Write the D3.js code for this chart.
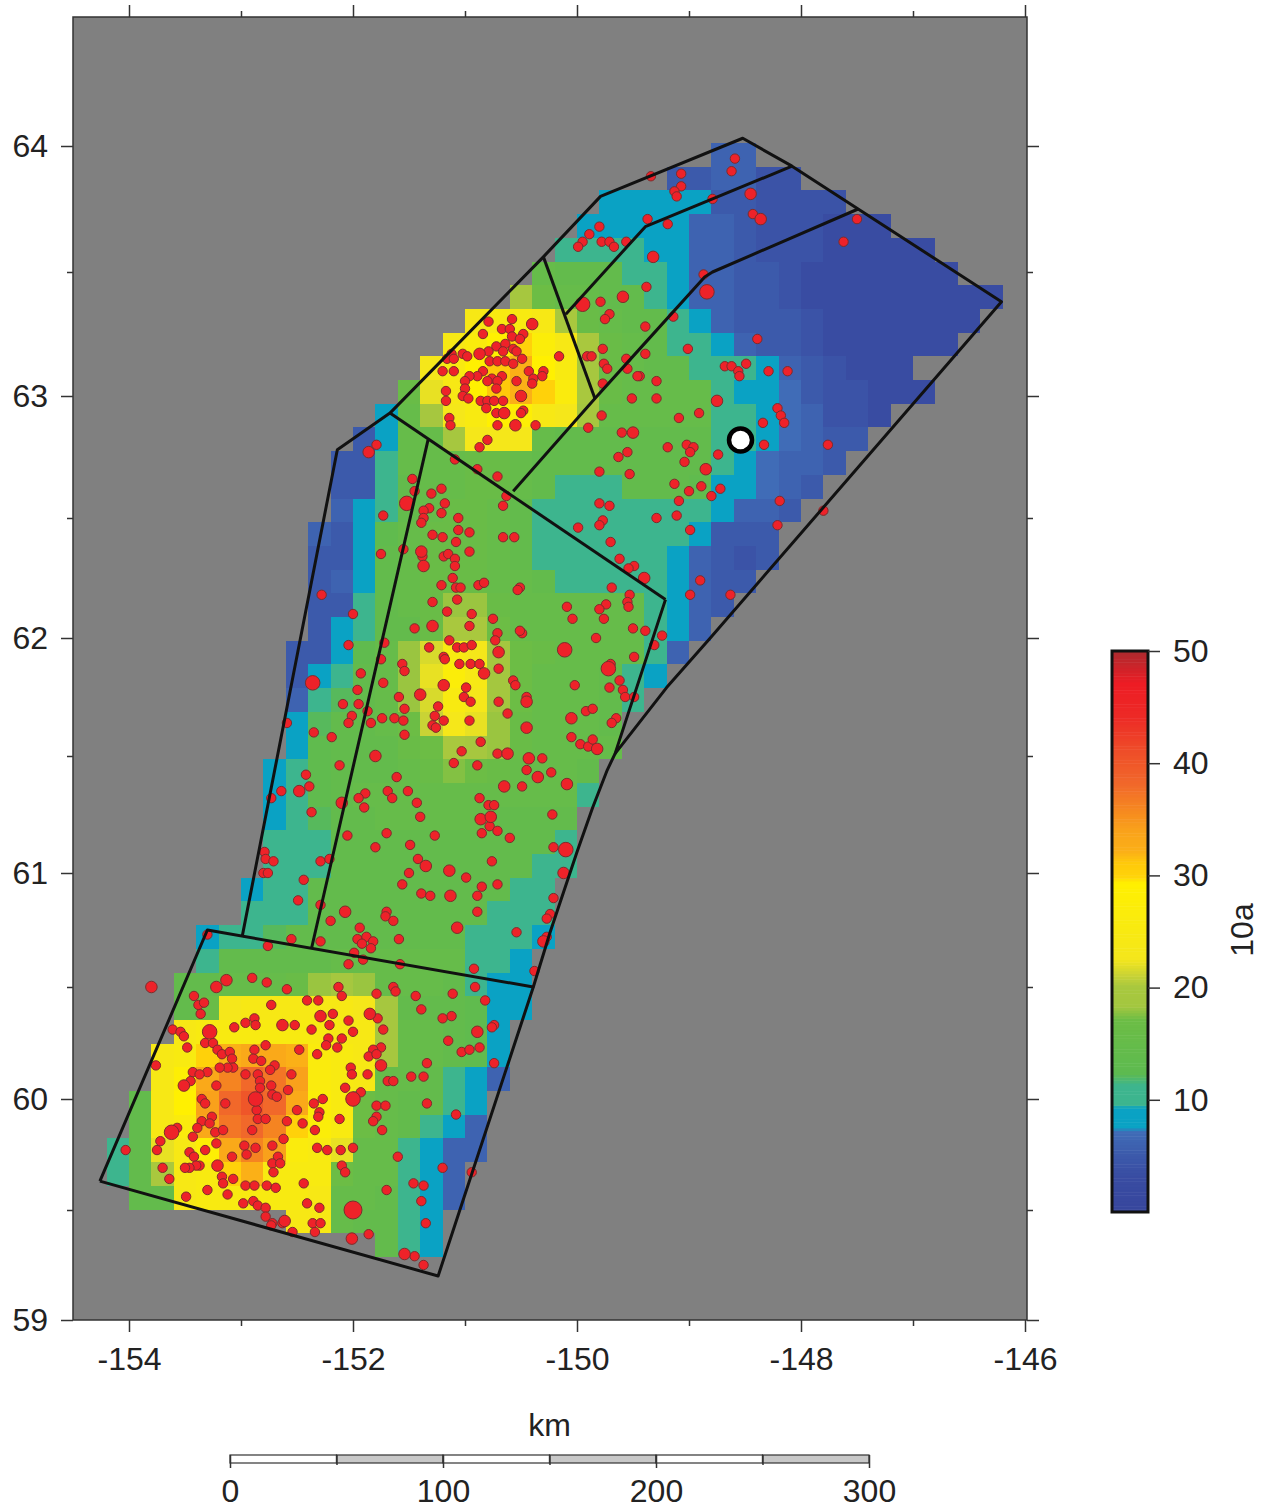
<!DOCTYPE html>
<html>
<head>
<meta charset="utf-8">
<script src="https://cdn.jsdelivr.net/npm/d3@7"></script>
<style>
  html, body { margin: 0; background: #fff; }
  svg { display: block; }
  text { font-family: "Liberation Sans", Arial, sans-serif; fill: #222; }
</style>
</head>
<body>
<svg id="chart" width="1270" height="1509"></svg>
<script>
// tick labels
const lonMajor = [-154, -152, -150, -148, -146];
const lonMinor = [-153, -151, -149, -147];
const latMajor = [59, 60, 61, 62, 63, 64];
const latMinor = [59.5, 60.5, 61.5, 62.5, 63.5];
const barTicks = [10, 20, 30, 40, 50];
const kmMajor = [0, 100, 200, 300];
const kmMinor = [50, 150, 250];

// measured latitude calibration of the map (mercator-like)
const latAnchors = [64.5, 64, 63.5, 63, 62.5, 62, 61.5, 61, 60.5, 60, 59.5, 59];

// colour table, value -> colour
const colorValues = [0, 3, 5, 7.2, 7.3, 9.2, 9.4, 11.2, 12.2, 17, 18.2, 20, 21, 22.4, 29.2, 29.8, 31, 32, 34, 35.5, 38, 41, 44, 47, 50];
const colorList = ['#37469d', '#394ca2', '#3c5aab', '#406eb8', '#0aa2c4', '#0aa2c4', '#3db58e', '#3db58e', '#5dba50', '#6cbd45', '#a3c73f', '#a9c83e', '#c9d335', '#f4e61c', '#fff000', '#ffd30a', '#ffc90a', '#fbb017', '#f9a11b', '#f68b1f', '#f1682a', '#ee4d29', '#ed2a26', '#ed1c24', '#a92b2f'];

// gridded value, one list per row from north to south, first filled column in cellStart
const cellStart = [27, 25, 22, 21, 20, 19, 18, 16, 15, 14, 13, 12, 11, 10, 10, 10, 9, 9, 9, 9, 9, 8, 8, 8, 8, 8, 7, 7, 7, 7, 7, 6, 6, 4, 4, 3, 3, 3, 2, 2, 1, 1, 0, 0, 1, 8, 12];
const cellValues = [
  [6, 6],
  [5, 5, 6, 6, 4, 4],
  [8.7, 8.7, 8.7, 8.7, 8.7, 5, 5, 4, 4, 4, 4],
  [8.7, 8.7, 8.7, 8.7, 8.7, 6, 6, 5, 4, 4, 4, 3, 3, 3],
  [11, 11, 11, 11, 8.7, 8.7, 6, 6, 5, 4, 4, 4, 3, 3, 3, 3, 3],
  [15, 14, 14, 14, 11, 11, 8.7, 6, 6, 5, 5, 4, 3, 3, 3, 3, 3, 3, 3],
  [19, 17, 15, 15, 14, 14, 11, 8.7, 6, 6, 5, 5, 4, 3, 3, 3, 3, 3, 3, 3, 3, 3],
  [24, 25, 25, 24, 20, 16, 15, 14, 14, 11, 8.7, 6, 5, 5, 5, 4, 3, 3, 3, 3, 3, 3, 3],
  [24, 26, 29, 30, 27, 24, 20, 16, 15, 14, 11, 11, 8.7, 6, 5, 5, 4, 3, 3, 3, 3, 3, 3],
  [23, 25, 29, 31, 32, 29, 25, 19, 16, 15, 14, 14, 11, 11, 11, 8.7, 6, 5, 4, 3, 3, 3],
  [16, 22, 24, 29, 31, 32, 30, 26, 20, 16, 15, 15, 15, 15, 11, 8.7, 8.7, 7, 5, 4, 4, 3, 3, 3],
  [8.7, 15, 19, 23, 25, 29, 28, 24, 23, 19, 15, 15, 15, 15, 15, 11, 11, 8.7, 7, 6, 4, 4, 3],
  [5, 8.7, 15, 15, 19, 23, 23, 23, 15, 14, 14, 14, 14, 14, 14, 14, 11, 11, 8.7, 7, 6, 5, 5],
  [5, 5, 11, 15, 15, 15, 16, 16, 15, 14, 14, 14, 14, 14, 14, 14, 14, 11, 8.7, 7, 6, 6, 5],
  [5, 5, 11, 14, 15, 15, 16, 16, 15, 14, 11, 11, 11, 14, 14, 14, 13, 8.7, 8.7, 7, 6, 5],
  [6, 8.7, 11, 14, 15, 16, 16, 15, 14, 11, 11, 11, 11, 11, 11, 11, 11, 8.7, 6, 6, 5],
  [6, 5, 8.7, 13, 15, 16, 16, 16, 15, 14, 11, 11, 11, 11, 11, 11, 11, 8.7, 5, 5, 5],
  [5, 5, 8.7, 14, 15, 16, 16, 16, 15, 14, 11, 11, 11, 11, 11, 11, 8.7, 6, 5, 4, 5],
  [5, 6, 8.7, 14, 15, 16, 16, 16, 15, 15, 14, 11, 11, 11, 11, 11, 8.7, 6, 5, 5],
  [5, 5, 11, 14, 15, 16, 18, 18, 16, 15, 15, 15, 15, 15, 15, 11, 8.7, 6, 5],
  [5, 8.7, 11, 14, 14, 16, 20, 20, 17, 15, 15, 15, 15, 15, 15, 11, 8.7, 6],
  [5, 5, 8.7, 13, 15, 18, 21.5, 25, 23, 18.5, 17, 16, 15, 15, 15, 15, 11, 6],
  [5, 8.7, 11, 14, 15, 18, 22, 27, 24, 18.5, 17, 15, 15, 15, 14, 11, 8.7],
  [6, 11, 12, 14, 15, 18, 21.5, 25, 23, 18.5, 17, 15, 15, 15, 14, 11],
  [8.7, 12, 14, 14, 15, 17, 21, 23, 22, 18, 16, 15, 15, 15, 14],
  [8.7, 13, 14, 14, 14, 16, 17, 20, 19, 18, 16, 15, 15, 15, 15],
  [8.7, 11, 13, 14, 14, 14, 15, 16, 17.5, 17, 16, 15, 15, 15, 14],
  [8.7, 11, 13, 14, 15, 15, 15, 15, 15, 15, 15, 15, 15, 15, 11],
  [8.7, 11, 12, 14, 14, 15, 15, 15, 15, 15, 14, 14, 14, 14],
  [11, 11, 11, 14, 14, 14, 14, 14, 14, 14, 14, 14, 14, 11],
  [11, 11, 11, 14, 14, 14, 14, 14, 14, 14, 14, 14, 11, 11],
  [8.7, 11, 11, 14, 14, 14, 14, 14, 14, 14, 14, 14, 11, 11],
  [11, 11, 11, 14, 14, 14, 14, 14, 14, 14, 14, 11, 11, 11],
  [8.7, 11, 11, 12, 14, 14, 14, 14, 14, 14, 14, 14, 11, 11, 11, 8.7],
  [11, 14, 14, 14, 14, 14, 15, 15, 15, 15, 15, 15, 11, 11, 8.7],
  [14, 14, 15, 15, 15, 16, 18, 19, 18, 15, 15, 15, 14, 11, 8.7, 8.7],
  [14, 16, 23, 24, 24, 24, 24, 24, 23, 19, 14, 14, 14, 13, 8.7, 8.7],
  [24, 25, 25, 25, 25, 25, 25, 24, 24, 19, 15, 15, 14, 13, 8.7],
  [24, 25, 30, 32, 33, 33, 32, 26, 25, 24, 19, 15, 15, 14, 13, 8.7],
  [24, 28, 33, 36, 38, 37, 34, 26, 25, 24, 15, 15, 14, 11, 8.7, 6],
  [14, 24, 29, 34, 38, 40, 38, 33, 27, 25, 17, 15, 14, 14, 11, 8.7],
  [14, 24, 26, 33, 37, 38, 36, 30, 27, 25, 17, 15, 14, 11, 8.7, 6],
  [11, 14, 22, 24, 28, 33, 36, 34, 26, 25, 22, 15, 15, 11, 8.7, 6, 6],
  [11, 14, 20, 24, 25, 30, 32, 25, 25, 25, 17, 15, 15, 11, 8.7, 6],
  [14, 14, 24, 25, 25, 25, 25, 25, 24, 15, 15, 14, 11, 8.7, 6],
  [24, 24, 15, 14, 14, 11, 8.7],
  [14, 11, 8.7]
];

// epicentres [lon, lat] by size class
const quakesSmall = [
  [-149.34,63.88],[-149.07,63.89],[-149.07,63.84],[-149.13,63.82],[-149.11,63.80],[-148.79,63.79],[-148.59,63.95],[-148.62,63.90],[-148.43,63.73],[-149.37,63.71],[-149.19,63.69],[-147.50,63.71],[-147.62,63.62],[-148.87,63.49],[-149.38,63.44],[-149.14,63.32],[-149.39,63.28],[-149.01,63.19],[-148.39,63.23],[-149.39,63.17],[-148.68,63.12],[-148.62,63.12],[-148.49,63.13],[-148.56,63.10],[-148.55,63.08],[-148.29,63.10],[-148.12,63.10],[-149.29,63.06],[-149.44,63.08],[-149.29,62.99],[-148.91,62.93],[-149.09,62.91],[-148.21,62.95],[-148.18,62.92],[-148.15,62.89],[-148.34,62.89],[-148.33,62.80],[-147.76,62.80],[-149.78,62.92],[-149.90,62.87],[-149.60,62.85],[-149.19,62.79],[-149.02,62.80],[-148.96,62.79],[-148.99,62.77],[-148.74,62.76],[-149.04,62.73],[-149.55,62.77],[-149.63,62.75],[-149.80,62.69],[-149.53,62.68],[-149.13,62.64],[-149.00,62.61],[-148.89,62.63],[-148.72,62.62],[-148.80,62.59],[-149.09,62.57],[-149.80,62.56],[-149.71,62.55],[-149.29,62.50],[-149.11,62.51],[-149.77,62.49],[-149.80,62.47],[-149.99,62.46],[-148.99,62.45],[-148.19,62.57],[-147.80,62.53],[-148.21,62.47],[-149.70,62.40],[-149.62,62.33],[-149.49,62.30],[-149.54,62.29],[-149.69,62.21],[-150.51,62.21],[-148.90,62.24],[-148.99,62.18],[-148.63,62.18],[-149.53,62.18],[-149.55,62.15],[-149.54,62.13],[-149.74,62.14],[-149.80,62.12],[-150.09,62.13],[-150.04,62.08],[-149.76,62.08],[-149.50,62.04],[-149.39,62.03],[-149.24,62.01],[-149.31,61.97],[-149.83,62.00],[-150.49,62.02],[-149.49,61.92],[-149.70,61.89],[-149.62,61.82],[-149.59,61.78],[-150.02,61.80],[-149.71,61.79],[-149.57,61.75],[-149.49,61.75],[-150.45,61.75],
  [-149.80,63.68],[-149.89,63.65],[-149.95,63.62],[-149.99,63.60],[-149.78,63.62],[-149.71,63.62],[-149.67,63.60],[-149.56,63.62],[-149.79,63.38],[-149.71,63.33],[-149.75,63.31],[-149.77,63.19],[-149.91,63.16],[-149.87,63.16],[-149.56,63.15],[-149.55,63.11],[-149.76,63.13],[-149.73,63.11],[-149.46,63.08],[-149.77,63.05],[-149.51,62.99],
  [-150.79,63.30],[-150.58,63.31],[-150.67,63.27],[-150.60,63.27],[-150.84,63.25],[-150.58,63.24],[-150.48,63.25],[-150.51,63.23],[-150.72,63.20],[-150.64,63.21],[-150.57,63.19],[-150.79,63.18],[-150.66,63.18],[-150.54,63.18],[-151.02,63.17],[-150.98,63.16],[-151.12,63.17],[-151.16,63.15],[-151.10,63.15],[-150.49,63.15],[-150.16,63.16],[-150.78,63.14],[-150.71,63.14],[-150.64,63.14],[-150.57,63.13],[-150.84,63.10],[-150.89,63.08],[-150.96,63.08],[-151.00,63.06],[-151.20,63.10],[-151.10,63.10],[-150.67,63.08],[-150.76,63.07],[-150.80,63.06],[-150.71,63.06],[-150.72,63.03],[-150.54,63.06],[-150.43,63.10],[-150.30,63.10],[-150.31,63.08],[-150.39,63.07],[-150.40,63.05],[-151.00,63.03],[-151.17,63.02],[-151.02,63.00],[-150.97,62.99],[-151.17,62.98],[-150.86,62.98],[-150.80,62.98],[-150.74,62.98],[-150.66,62.98],[-150.81,62.95],[-150.48,62.94],[-150.72,62.93],[-150.50,62.93],[-151.14,62.91],[-151.13,62.88],[-150.71,62.88],[-150.37,62.88],[-150.80,62.82],[-150.87,62.79],[-151.09,62.74],[-150.89,62.70],[-150.71,62.67],
  [-151.79,62.80],[-151.47,62.66],[-151.45,62.61],[-151.30,62.60],[-151.21,62.62],[-151.18,62.56],[-151.21,62.52],[-151.32,62.54],[-151.37,62.53],[-151.37,62.50],[-151.39,62.48],[-151.06,62.50],[-151.06,62.45],[-150.96,62.44],[-151.29,62.43],[-151.20,62.42],[-151.08,62.40],[-151.73,62.51],[-150.66,62.42],[-150.56,62.42],[-150.66,62.55],[-150.63,62.59],[-151.75,62.35],[-151.55,62.37],[-151.38,62.34],[-151.19,62.34],[-151.15,62.35],[-151.09,62.33],[-151.09,62.30],[-150.96,62.36],[-151.11,62.25],[-151.21,62.22],[-151.08,62.21],[-151.04,62.21],[-150.88,62.22],[-150.83,62.23],[-150.53,62.20],[-151.29,62.15],[-151.07,62.16],[-151.16,62.11],[-150.94,62.10],[-150.75,62.08],[-152.28,62.18],[-152.00,62.10],[-151.45,62.04],[-150.96,62.05],[-150.71,62.02],[-150.51,62.03],[-151.72,61.98],[-152.04,61.97],[-151.14,61.99],[-151.32,61.96],[-151.07,61.96],[-151.01,61.96],[-150.94,61.97],[-150.73,61.99],[-151.19,61.92],[-151.18,61.91],[-151.75,61.91],[-151.56,61.89],[-151.54,61.86],[-151.05,61.89],[-150.95,61.89],[-150.87,61.89],[-150.70,61.87],[-151.93,61.85],[-151.73,61.81],[-150.57,61.82],[-150.55,61.80],[-151.96,61.78],[-150.99,61.79],[-151.01,61.75],[-150.95,61.73],[-151.59,61.75],[-150.70,61.73],[-150.62,61.68],[-152.09,61.72],[-151.95,61.72],[-151.54,61.70],[-151.24,61.71],[-151.27,61.67],[-151.87,61.69],[-152.01,61.67],[-152.04,61.64],[-151.84,61.64],[-151.74,61.66],[-151.63,61.66],[-151.55,61.65],[-151.54,61.59],[-151.19,61.65],[-151.29,61.63],[-151.26,61.62],[-150.96,61.65],[-149.92,61.69],[-149.86,61.70],[-149.65,61.66],[-149.69,61.64],[-150.05,61.58],[-149.97,61.55],[-149.90,61.54],[-149.86,61.57],[-150.86,61.56],[-151.03,61.52],[-152.35,61.60],[-152.19,61.58],[-152.59,61.64],[-152.12,61.46],[-150.71,61.51],[-151.10,61.47],[-150.89,61.46],[-150.31,61.49],[-150.45,61.44],[-150.23,61.43],[-152.42,61.42],[-151.61,61.41],[-150.49,61.37],[-152.64,61.35],[-152.39,61.37],[-152.73,61.32],[-151.89,61.34],[-151.95,61.32],[-151.69,61.35],[-151.65,61.32],[-151.51,61.35],[-151.90,61.28],[-151.43,61.30],[-150.87,61.32],[-150.79,61.29],[-150.74,61.29],[-152.37,61.26],[-151.40,61.24],[-150.22,61.25],[-150.78,61.20],[-150.85,61.17],[-150.71,61.18],[-150.60,61.15],[-152.05,61.16],[-151.70,61.17],[-151.27,61.16],[-151.49,61.12],[-151.80,61.11],[-150.21,61.11],[-152.79,61.09],[-152.78,61.06],[-152.71,61.05],[-151.42,61.06],[-152.29,61.05],[-152.21,61.06],[-150.76,61.05],[-152.80,61.00],[-152.76,61.00],[-151.50,61.00],[-150.99,60.98],[-152.44,60.97],[-151.56,60.95],[-150.85,60.94],[-150.71,60.95],[-151.39,60.91],[-151.31,60.90],[-150.89,60.90],[-152.49,60.88],[-150.21,60.89],[-152.29,60.86],[-150.89,60.83],[-151.70,60.83],[-151.71,60.81],[-151.64,60.79],[-150.24,60.82],[-150.27,60.80],[-152.20,60.79],[-151.94,60.76],[-150.54,60.74],[-150.27,60.72],[-151.96,60.71],[-151.88,60.72],[-151.82,60.70],[-151.92,60.69],[-151.84,60.67],[-151.59,60.71],[-152.29,60.70],[-152.55,60.71],[-152.76,60.68],[-151.99,60.65],[-151.91,60.62],
  [-153.30,60.73],[-152.04,60.60],[-151.58,60.60],[-150.92,60.58],[-150.38,60.57],[-152.90,60.54],[-152.77,60.52],[-152.59,60.49],[-152.13,60.50],[-152.10,60.46],[-151.79,60.47],[-151.64,60.50],[-151.62,60.48],[-151.44,60.46],[-151.11,60.47],[-150.91,60.50],[-150.82,60.44],[-153.42,60.46],[-153.38,60.42],[-153.33,60.43],[-153.36,60.38],[-152.73,60.42],[-152.41,60.44],[-152.31,60.44],[-151.39,60.40],[-151.12,60.37],[-151.20,60.36],[-152.18,60.38],[-151.78,60.36],[-152.88,60.36],[-152.96,60.34],[-152.87,60.33],[-152.52,60.33],[-152.37,60.31],[-152.21,60.33],[-152.04,60.35],[-153.06,60.32],[-153.61,60.31],[-153.54,60.30],[-153.51,60.28],[-151.73,60.31],[-152.00,60.30],[-150.74,60.33],[-150.76,60.32],[-153.48,60.23],[-153.32,60.25],[-153.25,60.25],[-153.21,60.22],[-153.17,60.20],[-153.10,60.21],[-152.88,60.22],[-152.78,60.24],[-152.48,60.22],[-152.32,60.20],[-152.22,60.27],[-152.24,60.24],[-152.14,60.23],[-152.10,60.27],[-151.75,60.23],[-151.82,60.22],[-151.86,60.19],[-151.79,60.20],[-151.15,60.26],[-151.03,60.21],[-150.96,60.22],[-150.87,60.23],[-153.76,60.15],[-153.08,60.18],[-153.07,60.14],[-153.12,60.14],[-153.19,60.14],[-152.89,60.18],[-152.82,60.17],[-152.70,60.15],[-152.74,60.13],[-151.34,60.16],[-150.74,60.16],[-152.02,60.14],[-153.43,60.12],[-153.30,60.12],[-153.37,60.11],[-152.96,60.11],[-152.85,60.11],[-152.55,60.11],[-152.01,60.11],[-151.87,60.11],[-151.48,60.10],[-151.37,60.10],[-153.22,60.06],[-153.45,60.08],[-152.83,60.08],[-151.69,60.08],[-151.64,60.08],[-152.73,60.06],[-152.58,60.04],[-152.07,60.05],[-151.93,60.03],[-152.83,60.05],[-152.72,60.02],[-152.68,60.01],[-153.35,60.00],[-153.32,59.98],[-153.14,59.98],[-152.27,60.00],[-152.35,59.98],[-152.30,59.94],[-152.50,59.95],[-151.79,59.97],[-151.71,59.97],[-151.34,59.98],[-151.08,59.93],[-152.86,59.95],[-152.85,59.91],[-152.78,59.91],[-152.31,59.92],[-152.12,59.91],[-151.79,59.92],[-151.82,59.90],[-151.74,59.86],[-152.59,59.90],[-152.45,59.89],[-152.34,59.86],[-153.26,59.92],[-153.35,59.90],[-153.28,59.89],[-153.39,59.87],[-153.57,59.87],[-153.43,59.83],[-153.23,59.85],[-153.16,59.86],[-152.90,59.86],[-152.62,59.82],[-153.72,59.81],[-153.75,59.77],[-154.03,59.77],[-153.32,59.77],[-153.22,59.80],[-152.97,59.79],[-152.87,59.78],[-152.95,59.75],[-152.72,59.79],[-152.32,59.78],[-152.23,59.77],[-152.11,59.77],[-152.00,59.78],[-151.60,59.74],[-153.08,59.74],[-152.67,59.74],[-153.46,59.76],[-153.42,59.74],[-152.72,59.71],[-152.65,59.71],[-153.37,59.70],[-153.40,59.70],[-153.46,59.69],[-153.50,59.69],[-153.70,59.69],[-152.10,59.70],[-152.07,59.67],[-152.71,59.67],[-151.20,59.69],[-150.94,59.67],[-153.64,59.64],[-153.17,59.65],[-153.07,59.64],[-153.16,59.62],[-152.44,59.62],[-151.46,59.62],[-151.37,59.61],[-152.96,59.61],[-152.88,59.61],[-152.77,59.61],[-152.69,59.60],[-153.30,59.59],[-151.70,59.59],[-153.12,59.57],[-153.49,59.56],[-151.39,59.54],[-152.41,59.53],[-152.30,59.51],[-152.98,59.53],[-152.89,59.54],[-152.85,59.52],[-152.78,59.51],[-152.78,59.47],[-152.72,59.44],[-152.63,59.44],[-151.35,59.44],[-152.54,59.40],[-152.36,59.44],[-152.29,59.44],[-152.34,59.40],[-151.86,59.39],[-151.45,59.29],[-151.37,59.25],[-152.73,59.43]
];
const quakesMid = [
  [-148.45,63.81],[-148.36,63.71],[-149.32,63.56],[-148.75,62.98],[-149.50,62.85],[-148.85,62.70],[-149.40,62.25],[-149.59,63.40],[-150.40,63.29],[-150.87,63.17],[-150.50,63.00],[-150.65,62.93],[-150.55,62.88],[-151.86,62.77],[-151.39,62.36],[-151.37,62.30],[-151.29,62.05],[-150.83,61.85],[-151.19,61.80],[-151.40,61.76],[-150.45,61.73],[-150.70,61.94],[-150.45,61.62],[-150.05,61.66],[-149.82,61.53],[-151.80,61.50],[-150.62,61.51],[-150.43,61.49],[-150.35,61.41],[-150.65,61.37],[-150.09,61.38],[-152.48,61.35],[-152.10,61.30],[-150.86,61.23],[-150.77,61.24],[-151.35,61.03],[-151.14,61.01],[-150.12,61.00],[-151.13,60.90],[-152.07,60.83],[-151.07,60.76],[-150.30,60.70],[-153.80,60.50],[-153.22,60.50],[-153.13,60.53],[-152.29,60.37],[-151.85,60.38],[-152.63,60.33],[-150.89,60.30],[-151.75,60.15],[-153.51,60.06],[-153.21,59.70],[-152.61,59.45],[-152.01,59.37],[-151.54,59.30]
];
const quakesLarge = [
  [-148.84,63.42],[-149.95,63.37],[-150.11,61.95],[-149.72,61.87],[-152.36,61.81],[-150.10,61.10],[-151.52,62.56],[-153.28,60.30],[-152.00,60.00],[-152.87,60.00],[-153.62,59.85]
];
const quakesHuge = [[-152.00, 59.50]];
const sizeClasses = [5, 5.5, 6.2, 7];
const mainShock = [-148.54, 62.82];

// rupture block outlines [lon, lat]
const blockLines = [
  [[-154.26,59.63],[-153.30,60.75],[-150.39,60.50],[-151.24,59.20],[-154.26,59.63]],
  [[-150.39,60.50],[-150.24,60.74],[-150.00,61.09],[-149.86,61.28],[-149.73,61.44],[-149.66,61.51],[-149.21,62.16]],
  [[-149.66,61.51],[-149.20,61.79],[-148.81,62.00],[-146.21,63.38],[-147.49,63.75],[-148.08,63.92],[-148.52,64.03],[-149.79,63.80],[-150.30,63.56],[-151.67,62.93],[-152.14,62.78],[-152.99,60.72]],
  [[-151.33,62.82],[-152.37,60.67]],
  [[-151.67,62.93],[-149.21,62.16]],
  [[-150.57,62.61],[-149.84,62.99],[-149.44,63.19],[-148.86,63.48],[-148.79,63.50],[-147.49,63.75]],
  [[-150.10,63.33],[-149.39,63.68],[-148.08,63.92]],
  [[-150.30,63.56],[-149.84,62.99]]
];

const svg = d3.select('#chart');

// scales
const x = d3.scaleLinear().domain([-154, -146]).range([129, 1025]);
const y = d3.scaleLinear()
  .domain(latAnchors)
  .range([17, 146, 272, 396, 518, 638, 756, 873, 987, 1099, 1210, 1320]);
const frame = { left: x(-154.5), right: 1027, top: y(64.5), bottom: y(59) };

// the grid has 0.2 degree columns and a fixed row height
const colX = d3.scaleLinear().domain([0, 40]).range([x(-154.2), x(-146.2)]);
const rowY = d3.scaleLinear().domain([0, 47]).range([143, 1257]);
const color = d3.scaleLinear().domain(colorValues).range(colorList).clamp(true);
const radius = d3.scaleLinear().domain([5, 7]).range([4.7, 9]);

// background
svg.append('rect')
  .attr('x', frame.left)
  .attr('y', frame.top)
  .attr('width', frame.right - frame.left)
  .attr('height', frame.bottom - frame.top)
  .attr('fill', '#808080');

// grid cells
const cells = cellValues.flatMap((row, r) =>
  row.map((v, i) => ({ r: r, c: cellStart[r] + i, v: v })));
svg.append('g').selectAll('rect')
  .data(cells)
  .enter()
  .append('rect')
  .attr('x', d => colX(d.c))
  .attr('y', d => rowY(d.r))
  .attr('width', d => colX(d.c + 1) - colX(d.c))
  .attr('height', d => rowY(d.r + 1) - rowY(d.r))
  .attr('fill', d => color(d.v))
  .attr('shape-rendering', 'crispEdges');

// epicentres
const quakes = [quakesSmall, quakesMid, quakesLarge, quakesHuge].flatMap((list, i) =>
  list.map(p => ({ lon: p[0], lat: p[1], size: sizeClasses[i] })));
svg.append('g').selectAll('circle')
  .data(quakes)
  .enter()
  .append('circle')
  .attr('cx', d => x(d.lon))
  .attr('cy', d => y(d.lat))
  .attr('r', d => radius(d.size))
  .attr('fill', '#ee2229')
  .attr('stroke', '#7d2c2c')
  .attr('stroke-width', 1);

// block outlines
const line = d3.line().x(d => x(d[0])).y(d => y(d[1]));
svg.append('g').selectAll('path')
  .data(blockLines)
  .enter()
  .append('path')
  .attr('d', line)
  .attr('fill', 'none')
  .attr('stroke', '#111')
  .attr('stroke-width', 3)
  .attr('stroke-linejoin', 'round');

// main shock
svg.append('circle')
  .attr('cx', x(mainShock[0]))
  .attr('cy', y(mainShock[1]))
  .attr('r', 11.5)
  .attr('fill', '#fff')
  .attr('stroke', '#000')
  .attr('stroke-width', 4.5);

// frame
svg.append('rect')
  .attr('x', frame.left)
  .attr('y', frame.top)
  .attr('width', frame.right - frame.left)
  .attr('height', frame.bottom - frame.top)
  .attr('fill', 'none')
  .attr('stroke', '#333')
  .attr('stroke-width', 1.5);

function styleAxis(g) {
  g.select('.domain').remove();
  g.selectAll('line').attr('stroke', '#333').attr('stroke-width', 1.5);
  g.selectAll('text').attr('font-size', 32).attr('fill', '#222');
}

// map axes
svg.append('g').attr('transform', `translate(0,${frame.bottom})`)
  .call(d3.axisBottom(x).tickValues(lonMajor).tickSize(12).tickPadding(15).tickFormat(d => String(d)))
  .call(styleAxis);
svg.append('g').attr('transform', `translate(0,${frame.bottom})`)
  .call(d3.axisBottom(x).tickValues(lonMinor).tickSize(6).tickFormat(''))
  .call(styleAxis);
svg.append('g').attr('transform', `translate(0,${frame.top})`)
  .call(d3.axisTop(x).tickValues(lonMajor).tickSize(12).tickFormat(''))
  .call(styleAxis);
svg.append('g').attr('transform', `translate(0,${frame.top})`)
  .call(d3.axisTop(x).tickValues(lonMinor).tickSize(6).tickFormat(''))
  .call(styleAxis);
svg.append('g').attr('transform', `translate(${frame.left},0)`)
  .call(d3.axisLeft(y).tickValues(latMajor).tickSize(12).tickPadding(13).tickFormat(d3.format('d')))
  .call(styleAxis);
svg.append('g').attr('transform', `translate(${frame.left},0)`)
  .call(d3.axisLeft(y).tickValues(latMinor).tickSize(6).tickFormat(''))
  .call(styleAxis);
svg.append('g').attr('transform', `translate(${frame.right},0)`)
  .call(d3.axisRight(y).tickValues(latMajor).tickSize(12).tickFormat(''))
  .call(styleAxis);
svg.append('g').attr('transform', `translate(${frame.right},0)`)
  .call(d3.axisRight(y).tickValues(latMinor).tickSize(6).tickFormat(''))
  .call(styleAxis);

// colour bar
const barY = d3.scaleLinear().domain([0, 50]).range([1212, 651]);
const barX = 1112;
const barW = 36;
svg.append('g').selectAll('rect')
  .data(d3.range(0, 50, 0.25))
  .enter()
  .append('rect')
  .attr('x', barX)
  .attr('y', d => barY(d + 0.25))
  .attr('width', barW)
  .attr('height', d => barY(d) - barY(d + 0.25) + 0.5)
  .attr('fill', d => color(d));
svg.append('rect')
  .attr('x', barX)
  .attr('y', barY(50))
  .attr('width', barW)
  .attr('height', barY(0) - barY(50))
  .attr('fill', 'none')
  .attr('stroke', '#111')
  .attr('stroke-width', 3);
svg.append('g').attr('transform', `translate(${barX + barW},0)`)
  .call(d3.axisRight(barY).tickValues(barTicks).tickSize(12).tickPadding(13))
  .call(styleAxis);
svg.append('text')
  .attr('transform', `translate(1253,930) rotate(-90)`)
  .attr('text-anchor', 'middle')
  .attr('font-size', 32)
  .text('10a');

// distance scale
const km = d3.scaleLinear().domain([0, 300]).range([230, 869]);
const scaleTop = 1455;
const scaleH = 8;
svg.append('g').selectAll('rect')
  .data(d3.range(0, 300, 50))
  .enter()
  .append('rect')
  .attr('x', d => km(d))
  .attr('y', scaleTop)
  .attr('width', d => km(d + 50) - km(d))
  .attr('height', scaleH)
  .attr('fill', (d, i) => i % 2 ? '#c8c8c8' : '#fff')
  .attr('stroke', '#333')
  .attr('stroke-width', 1.2);
svg.append('g').attr('transform', `translate(0,${scaleTop})`)
  .call(d3.axisBottom(km).tickValues(kmMajor).tickSize(13).tickPadding(11))
  .call(styleAxis);
svg.append('g').attr('transform', `translate(0,${scaleTop})`)
  .call(d3.axisBottom(km).tickValues(kmMinor).tickSize(10).tickFormat(''))
  .call(styleAxis);
svg.append('text')
  .attr('x', km(150))
  .attr('y', 1436)
  .attr('text-anchor', 'middle')
  .attr('font-size', 32)
  .text('km');
</script>
</body>
</html>
